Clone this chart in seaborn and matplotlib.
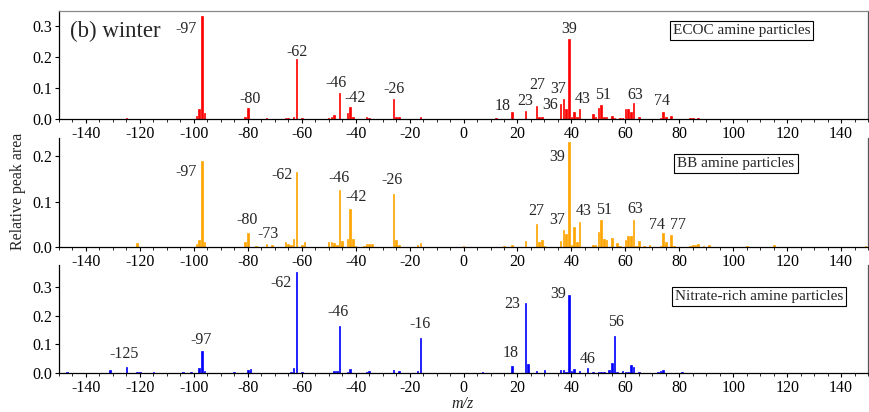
import matplotlib
matplotlib.use('Agg')
import matplotlib.pyplot as plt
from matplotlib.ticker import MultipleLocator, FormatStrFormatter
import pandas as pd
import seaborn as sns

# ECOC amine particles (red)
ecoc_mz = [-125, -121, -99, -98, -97, -96, -81, -80, -73, -66, -65, -63, -62, -60,
           -50, -49, -48, -46, -43, -42, -41, -36, -35, -26, -25, -24, -16,
           12, 18, 23, 27, 28, 29, 36, 37, 38, 39, 40, 41, 42, 43, 48, 49, 50, 51,
           52, 53, 55, 56, 58, 59, 60, 61, 62, 63, 65, 73, 74, 75, 77, 84, 85, 87]
ecoc_area = [0.004, 0.001, 0.010, 0.031, 0.332, 0.018, 0.007, 0.036, 0.002, 0.004, 0.003, 0.005, 0.193, 0.004,
             0.004, 0.006, 0.012, 0.085, 0.018, 0.038, 0.006, 0.007, 0.004, 0.065, 0.006, 0.006, 0.007,
             0.004, 0.023, 0.025, 0.042, 0.007, 0.007, 0.047, 0.064, 0.031, 0.258, 0.005, 0.023, 0.005, 0.032,
             0.015, 0.008, 0.034, 0.045, 0.006, 0.006, 0.010, 0.004, 0.003, 0.004, 0.031, 0.032, 0.024, 0.050,
             0.005, 0.002, 0.023, 0.005, 0.009, 0.003, 0.003, 0.003]

# BB amine particles (orange)
bb_mz = [-147, -125, -121, -105, -99, -98, -97, -96, -89, -87, -81, -80, -77, -73, -71,
         -66, -65, -64, -63, -62, -60, -59, -50, -49, -48, -47, -46, -45, -43, -42, -41, -40,
         -37, -36, -35, -34, -26, -25, -24, -17, -16, 0, 15, 18, 23, 27, 28, 29, 30,
         36, 37, 38, 39, 40, 41, 42, 43, 48, 49, 50, 51, 52, 53, 55, 57, 58, 60, 61, 62, 63,
         64, 65, 67, 69, 73, 74, 75, 77, 78, 84, 85, 86, 87, 89, 91, 105, 115, 128, 149]
bb_area = [0.001, 0.001, 0.009, 0.001, 0.007, 0.015, 0.190, 0.010, 0.001, 0.001, 0.010, 0.031, 0.003, 0.006, 0.004,
           0.011, 0.006, 0.005, 0.017, 0.166, 0.004, 0.011, 0.011, 0.011, 0.009, 0.004, 0.126, 0.013, 0.018, 0.084, 0.018, 0.002,
           0.003, 0.006, 0.007, 0.007, 0.117, 0.015, 0.004, 0.004, 0.008, 0.002, 0.002, 0.005, 0.014, 0.051, 0.010, 0.016, 0.003,
           0.014, 0.038, 0.028, 0.231, 0.004, 0.044, 0.011, 0.056, 0.005, 0.005, 0.034, 0.059, 0.018, 0.016, 0.020, 0.008, 0.003,
           0.015, 0.024, 0.024, 0.059, 0.003, 0.014, 0.003, 0.004, 0.003, 0.031, 0.012, 0.027, 0.003, 0.003, 0.005, 0.004, 0.007,
           0.003, 0.004, 0.003, 0.005, 0.001, 0.003]

# Nitrate-rich amine particles (blue)
nitrate_mz = [-147, -131, -125, -121, -120, -115, -104, -101, -98, -97, -96, -85, -80, -79, -73,
              -64, -63, -62, -60, -48, -47, -46, -43, -42, -36, -35, -26, -24, -17, -16,
              7, 12, 18, 23, 24, 27, 30, 36, 37, 38, 39, 40, 41, 43, 46, 48, 50, 51, 52,
              54, 55, 56, 57, 59, 60, 61, 62, 63, 65, 72, 73, 74, 81]
nitrate_area = [0.005, 0.009, 0.020, 0.003, 0.002, 0.005, 0.002, 0.002, 0.016, 0.077, 0.008, 0.003, 0.009, 0.014, 0.001,
                0.004, 0.016, 0.352, 0.003, 0.006, 0.007, 0.166, 0.005, 0.013, 0.003, 0.006, 0.012, 0.006, 0.008, 0.124,
                0.002, 0.001, 0.024, 0.244, 0.032, 0.007, 0.009, 0.009, 0.009, 0.004, 0.273, 0.008, 0.013, 0.007, 0.016,
                0.002, 0.003, 0.004, 0.003, 0.009, 0.036, 0.130, 0.005, 0.006, 0.004, 0.003, 0.028, 0.022, 0.004,
                0.004, 0.007, 0.012, 0.002]

# peak labels: text, x, y (label centre, data units)
ecoc_labels = [('-97', -103, 0.290), ('-80', -79.2, 0.064), ('-62', -61.9, 0.217), ('-46', -47.3, 0.115),
               ('-42', -40.3, 0.067), ('-26', -25.8, 0.096), ('18', 14.6, 0.042), ('23', 22.9, 0.059),
               ('27', 27.5, 0.108), ('36', 32.2, 0.044), ('37', 35.1, 0.096), ('39', 39.0, 0.289),
               ('43', 44.0, 0.066), ('51', 51.8, 0.076), ('63', 63.5, 0.078), ('74', 73.5, 0.059)]
bb_labels = [('-97', -102.9, 0.165), ('-80', -80.4, 0.060), ('-73', -72.6, 0.028), ('-62', -67.4, 0.159),
             ('-46', -46.1, 0.152), ('-42', -39.9, 0.109), ('-26', -26.4, 0.148), ('27', 27.0, 0.079),
             ('37', 34.9, 0.059), ('39', 34.7, 0.198), ('43', 44.7, 0.079), ('51', 52.1, 0.082),
             ('63', 63.5, 0.083), ('74', 71.6, 0.048), ('77', 79.6, 0.048)]
nitrate_labels = [('-125', -125.7, 0.065), ('-97', -97.4, 0.116), ('-62', -67.7, 0.314), ('-46', -46.4, 0.215),
                  ('-16', -16.1, 0.170), ('18', 17.4, 0.069), ('23', 18.2, 0.240), ('39', 35.1, 0.277),
                  ('46', 46.2, 0.049), ('56', 56.4, 0.177)]

panels = [
    ('ECOC amine particles', ecoc_mz, ecoc_area, '#ff0000', 0.348, ecoc_labels, (103, 0.286)),
    ('BB amine particles', bb_mz, bb_area, '#ffa500', 0.240, bb_labels, (101, 0.183)),
    ('Nitrate-rich amine particles', nitrate_mz, nitrate_area, '#0000ff', 0.378, nitrate_labels, (109.5, 0.268)),
]

sns.set_style('ticks')
plt.rcParams['font.family'] = ['Liberation Serif', 'DejaVu Serif']
plt.rcParams['axes.unicode_minus'] = False

fig = plt.figure(figsize=(8.7, 4.12), dpi=100)
boxes = [(0.0678, 0.7112, 0.930, 0.262),
         (0.0678, 0.4005, 0.930, 0.2646),
         (0.0678, 0.0947, 0.930, 0.262)]

for i, (name, mz, area, color, ytop, labels, boxpos) in enumerate(panels):
    ax = fig.add_axes(boxes[i])
    ax.patch.set_alpha(0)  # let tick labels of the panel above show through
    df = pd.DataFrame({'mz': mz, 'area': area})
    sns.histplot(data=df, x='mz', weights='area', discrete=True, shrink=0.6,
                 color=color, alpha=1, edgecolor=color, linewidth=0.5, ax=ax)
    ax.set_xlim(-150, 150)
    ax.set_ylim(0, ytop)
    ax.set_xlabel('')
    ax.set_ylabel('')
    ax.xaxis.set_major_locator(MultipleLocator(20))
    ax.xaxis.set_minor_locator(MultipleLocator(5))
    ax.yaxis.set_major_locator(MultipleLocator(0.1))
    ax.yaxis.set_major_formatter(FormatStrFormatter('%.1f'))
    ax.tick_params(which='major', direction='out', length=3, width=0.8, labelsize=11.5, pad=2, colors='black')
    ax.tick_params(which='minor', direction='out', length=2, width=0.7)
    for s in ax.spines.values():
        s.set_linewidth(0.9)
        s.set_color('black')
    ax.spines['right'].set_color('#555555')
    if i == 0:
        ax.spines['top'].set_color('#888888')
        ax.text(-146, 0.282, '(b) winter', fontsize=16.5, ha='left', va='center')
    else:
        ax.spines['top'].set_visible(False)
    for txt, x, y in labels:
        ax.text(x, y, txt, fontsize=11.5, ha='center', va='center')
    ax.text(boxpos[0], boxpos[1], name, fontsize=11, ha='center', va='center',
            bbox=dict(boxstyle='square,pad=0.2', fc='white', ec='black', lw=0.8))

fig.text(0.021, 0.535, 'Relative peak area', rotation=90, ha='center', va='center', fontsize=11.5)
fig.text(0.532, 0.02, 'm/z', style='italic', ha='center', va='center', fontsize=11.5)

fig.savefig('out.png', dpi=100)
